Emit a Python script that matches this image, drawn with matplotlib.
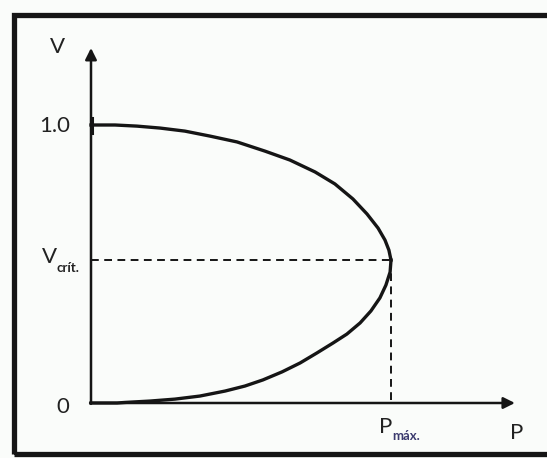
import matplotlib
matplotlib.use("Agg")
import matplotlib.pyplot as plt
from matplotlib.patches import Rectangle

# ── data (P normalised to P_max = 1, V in p.u.) ─────────────────────────────
p_upper = [0.0, 0.08, 0.153, 0.23, 0.313, 0.397, 0.487, 0.58, 0.663, 0.747,
           0.813, 0.873, 0.92, 0.957, 0.98, 0.993, 1.0]
v_upper = [1.0, 1.0, 0.996, 0.989, 0.978, 0.960, 0.939, 0.906, 0.874, 0.831,
           0.788, 0.734, 0.680, 0.629, 0.586, 0.550, 0.514]
p_lower = [1.0, 0.997, 0.983, 0.963, 0.933, 0.897, 0.853, 0.807, 0.753, 0.697,
           0.637, 0.573, 0.513, 0.447, 0.363, 0.28, 0.197, 0.113, 0.087, 0.0]
v_lower = [0.514, 0.471, 0.424, 0.378, 0.331, 0.288, 0.248, 0.216, 0.180, 0.144,
           0.112, 0.083, 0.061, 0.043, 0.025, 0.014, 0.007, 0.002, 0.0, 0.0]
p_max = 1.0
v_crit = 0.514
v_top = 1.0

# ── canvas ─────────────────────────────────────────────────────────────────
W, H = 547, 458
BG = "#fafcfa"
INK = "#151515"
fig = plt.figure(figsize=(W / 100, H / 100), dpi=100)
fig.patch.set_facecolor(BG)

# outer frame (partly clipped on the right, like the scan)
fig.patches.append(Rectangle((14.5 / W, 1 - 453.5 / H), (560 - 14.5) / W, (453.5 - 14.5) / H,
                             transform=fig.transFigure, fill=False,
                             edgecolor=INK, linewidth=3.8, zorder=0))

# axes spanning the figure: origin at px (91, 403), P=1 -> 391, V=1 -> 125
sx, sy = 300.0, 278.0
ax = fig.add_axes([0, 0, 1, 1])
ax.set_xlim(-91 / sx, (W - 91) / sx)
ax.set_ylim(-(H - 403) / sy, 403 / sy)
ax.axis("off")
ax.patch.set_alpha(0)

# axes with arrows
arrow = dict(arrowstyle="-|>", color=INK, lw=1.8, mutation_scale=17, shrinkA=0, shrinkB=0)
ax.annotate("", xy=(0, 1.277), xytext=(0, -0.003), arrowprops=arrow)
ax.annotate("", xy=(1.413, 0), xytext=(-0.003, 0), arrowprops=arrow)

# curve
ax.plot(p_upper, v_upper, color=INK, lw=2.4, solid_joinstyle="round")
ax.plot(p_lower, v_lower, color=INK, lw=2.4, solid_joinstyle="round")
ax.plot([0.004, 0.004], [v_top - 0.03, v_top + 0.025], color=INK, lw=2.2)

# dashed guides
ax.plot([0, p_max], [v_crit, v_crit], color=INK, lw=1.4, ls=(0, (4, 2.8)))
ax.plot([p_max, p_max], [v_crit, 0], color=INK, lw=1.4, ls=(0, (4, 2.8)))

# labels
FONT = ["Lato", "DejaVu Sans"]
FS = 16
ax.text(-0.113, 1.28, "V", fontsize=FS, family=FONT, color="#222",
        ha="center", va="center")
ax.text(-0.07, v_top - 0.005, "1.0", fontsize=FS, family=FONT, color="#222",
        ha="right", va="center")
ax.text(-0.095, -0.016, "0", fontsize=FS, family=FONT, color="#222",
        ha="center", va="center")
ax.text(-0.114, v_crit + 0.01, "V", fontsize=FS, family=FONT, color="#222",
        ha="right", va="center")
ax.text(-0.114, v_crit - 0.028, "crít.", fontsize=9.5, family=FONT, color="#222",
        fontweight="bold", ha="left", va="center")
ax.text(1.42, -0.108, "P", fontsize=FS, family=FONT, color="#222",
        ha="center", va="center")
ax.text(p_max + 0.004, -0.088, "P", fontsize=FS, family=FONT, color="#222",
        ha="right", va="center")
ax.text(p_max + 0.004, -0.12, "máx.", fontsize=9.5, family=FONT, color="#3b3a6e",
        fontweight="bold", ha="left", va="center")

plt.savefig("out.png", dpi=100, facecolor=BG)
